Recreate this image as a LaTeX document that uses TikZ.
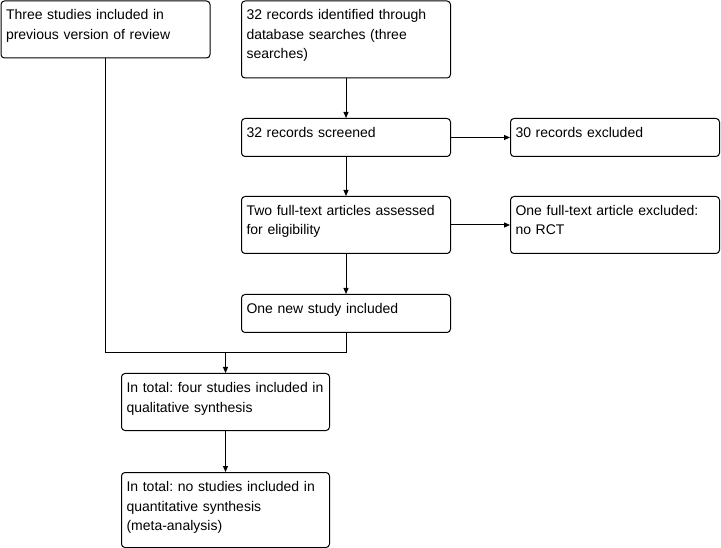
\documentclass[tikz,border=0pt]{standalone}
\usepackage{fontspec}
\setmainfont{Liberation Sans}
\usetikzlibrary{positioning,arrows.meta}
\tikzset{
  box/.style={draw, line width=1pt, rounded corners=3.5pt, anchor=north west, align=left,
    inner xsep=5pt, inner ysep=5pt, text height=14pt, font=\fontsize{14}{19.5}\selectfont\frenchspacing},
  wide/.style={text width=199pt},
  arr/.style={line width=1pt, -{Triangle[length=6pt,width=5pt]}},
  lnk/.style={line width=1pt}}

\begin{document}
\begin{tikzpicture}[x=1pt, y=-1pt]
\useasboundingbox (0,0) rectangle (721,548);
\node[box, wide, text depth=33pt] (prev) at (0.5,0.5) {Three studies included in\\previous version of review};
\node[box, wide, text depth=53pt] (ident) at (241,0.5) {32 records identified through\\database searches (three\\searches)};
\node[box, wide, text depth=14pt] (screen) at (241,118) {32 records screened};
\node[box, wide, text depth=14pt] (excl) at (510,118) {30 records excluded};
\node[box, wide, text depth=33pt] (full) at (241,196) {Two full-text articles assessed\\for eligibility};
\node[box, wide, text depth=33pt] (ftexcl) at (510,196) {One full-text article excluded:\\no RCT};
\node[box, wide, text depth=14pt] (newst) at (241,294) {One new study included};
\node[box, text width=198pt, text depth=33pt] (qual) at (121,373) {In total: four studies included in\\qualitative synthesis};
\node[box, text width=198pt, text depth=51pt] (quant) at (121,472) {In total: no studies included in\\quantitative synthesis\\(meta-analysis)};
% merge of old and new studies
\coordinate (merge) at (qual.north |- 0,352.5);
\draw[lnk] (prev.south) |- (merge) -| (newst.south);
\draw[arr] (merge) -- (qual.north);
\draw[arr] (ident) -- (screen);
\draw[arr] (screen) -- (full);
\draw[arr] (full) -- (newst);
\draw[arr] (qual) -- (quant);
\draw[arr] (screen) -- (excl);
\draw[arr] (full.east) -- (ftexcl.west |- full.east);
\end{tikzpicture}
\end{document}
